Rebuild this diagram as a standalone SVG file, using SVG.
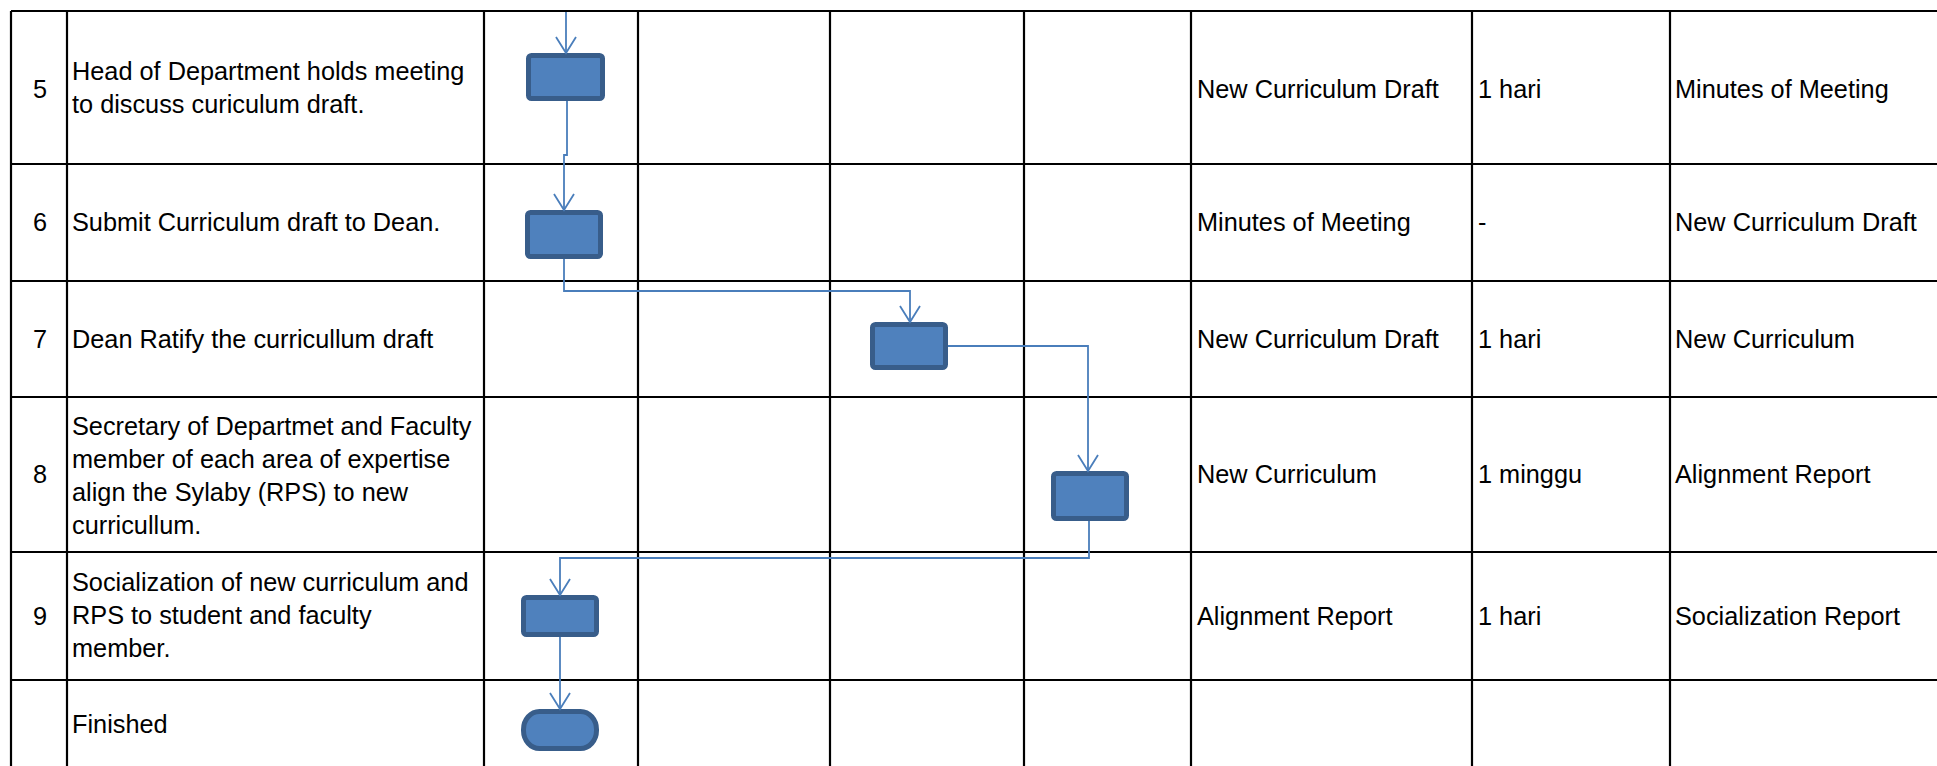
<svg xmlns="http://www.w3.org/2000/svg" width="1937" height="766" viewBox="0 0 1937 766">
<style>
.grid line{stroke:#000;stroke-width:2.2}
text{font-family:"Liberation Sans",Arial,sans-serif;font-size:25.3px;fill:#000}
.num{text-anchor:middle}
.act{fill:#4F81BD;stroke:#385D8A;stroke-width:5}
.conn path{fill:none;stroke:#4A7EBB;stroke-width:1.8}
</style>
<defs>
<marker id="arr" markerUnits="userSpaceOnUse" markerWidth="30" markerHeight="30" viewBox="-20 -15 30 30" refX="0" refY="0" orient="auto" overflow="visible">
<path d="M-16,-10 L0,0 L-16,10" fill="none" stroke="#4A7EBB" stroke-width="1.8"/>
</marker>
</defs>
<rect width="1937" height="766" fill="#fff"/>
<g id="grid" class="grid">
<line x1="11" y1="11" x2="1937" y2="11"/>
<line x1="11" y1="164" x2="1937" y2="164"/>
<line x1="11" y1="281" x2="1937" y2="281"/>
<line x1="11" y1="397" x2="1937" y2="397"/>
<line x1="11" y1="552" x2="1937" y2="552"/>
<line x1="11" y1="680" x2="1937" y2="680"/>
<line x1="11" y1="11" x2="11" y2="766"/>
<line x1="67" y1="11" x2="67" y2="766"/>
<line x1="484" y1="11" x2="484" y2="766"/>
<line x1="638" y1="11" x2="638" y2="766"/>
<line x1="830" y1="11" x2="830" y2="766"/>
<line x1="1024" y1="11" x2="1024" y2="766"/>
<line x1="1191" y1="11" x2="1191" y2="766"/>
<line x1="1472" y1="11" x2="1472" y2="766"/>
<line x1="1670" y1="11" x2="1670" y2="766"/>
</g>
<g id="row5">
<text class="num" x="40" y="98">5</text>
<text x="72" y="80">Head of Department holds meeting</text>
<text x="72" y="113">to discuss curiculum draft.</text>
<text x="1197" y="98">New Curriculum Draft</text>
<text x="1478" y="98">1 hari</text>
<text x="1675" y="98">Minutes of Meeting</text>
</g>
<g id="row6">
<text class="num" x="40" y="231">6</text>
<text x="72" y="231">Submit Curriculum draft to Dean.</text>
<text x="1197" y="231">Minutes of Meeting</text>
<text x="1478" y="231">-</text>
<text x="1675" y="231">New Curriculum Draft</text>
</g>
<g id="row7">
<text class="num" x="40" y="348">7</text>
<text x="72" y="348">Dean Ratify the curricullum draft</text>
<text x="1197" y="348">New Curriculum Draft</text>
<text x="1478" y="348">1 hari</text>
<text x="1675" y="348">New Curriculum</text>
</g>
<g id="row8">
<text class="num" x="40" y="483">8</text>
<text x="72" y="435">Secretary of Departmet and Faculty</text>
<text x="72" y="468">member of each area of expertise</text>
<text x="72" y="501">align the Sylaby (RPS) to new</text>
<text x="72" y="534">curricullum.</text>
<text x="1197" y="483">New Curriculum</text>
<text x="1478" y="483">1 minggu</text>
<text x="1675" y="483">Alignment Report</text>
</g>
<g id="row9">
<text class="num" x="40" y="625">9</text>
<text x="72" y="591">Socialization of new curriculum and</text>
<text x="72" y="624">RPS to student and faculty</text>
<text x="72" y="657">member.</text>
<text x="1197" y="625">Alignment Report</text>
<text x="1478" y="625">1 hari</text>
<text x="1675" y="625">Socialization Report</text>
</g>
<g id="rowEnd">
<text x="72" y="733">Finished</text>
</g>
<g id="node-step5"><rect class="act" x="528.5" y="55.5" width="74" height="43" rx="3"/></g>
<g id="node-step6"><rect class="act" x="527.5" y="212.5" width="73" height="44" rx="3"/></g>
<g id="node-step7"><rect class="act" x="872.5" y="324.5" width="73" height="43" rx="3"/></g>
<g id="node-step8"><rect class="act" x="1053.5" y="473.5" width="73" height="45" rx="3"/></g>
<g id="node-step9"><rect class="act" x="523.5" y="597.5" width="73" height="37" rx="3"/></g>
<g id="node-finish"><rect class="act" x="523.5" y="711.5" width="73" height="37" rx="16" ry="18"/></g>
<g id="connectors" class="conn">
<path d="M566,12 V53" marker-end="url(#arr)"/>
<path d="M567,101 V155 H564 V210" marker-end="url(#arr)"/>
<path d="M564,259 V291 H910 V322" marker-end="url(#arr)"/>
<path d="M948,346 H1088 V471" marker-end="url(#arr)"/>
<path d="M1089,521 V558 H560 V595" marker-end="url(#arr)"/>
<path d="M560,637 V709" marker-end="url(#arr)"/>
</g>
</svg>
